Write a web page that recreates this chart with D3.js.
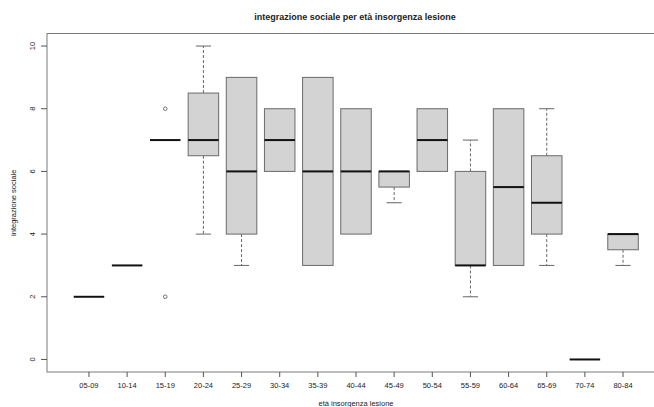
<!DOCTYPE html>
<html>
<head>
<meta charset="utf-8">
<script src="https://cdn.jsdelivr.net/npm/d3@7"></script>
<style>
  body { margin: 0; background: #fff; }
  text { font-family: "Liberation Sans", Arial, sans-serif; fill: #222; }
</style>
</head>
<body>
<svg id="chart" width="654" height="407"></svg>
<script>
const categories = ['05-09','10-14','15-19','20-24','25-29','30-34','35-39','40-44','45-49','50-54','55-59','60-64','65-69','70-74','80-84'];
const whiskerLow  = [2, 3, 7, 4,   3, 6, 3, 4, 5,   6, 2, 3, 3, 0, 3];
const q1          = [2, 3, 7, 6.5, 4, 6, 3, 4, 5.5, 6, 3, 3, 4, 0, 3.5];
const medians     = [2, 3, 7, 7,   6, 7, 6, 6, 6,   7, 3, 5.5, 5, 0, 4];
const q3          = [2, 3, 7, 8.5, 9, 8, 9, 8, 6,   8, 6, 8, 6.5, 0, 4];
const whiskerHigh = [2, 3, 7, 10,  9, 8, 9, 8, 6,   8, 7, 8, 8, 0, 4];
const outliers    = [[], [], [8, 2], [], [], [], [], [], [], [], [], [], [], [], []];
const yTicks = [0, 2, 4, 6, 8, 10];

const svg = d3.select('#chart');
const n = categories.length;

// R-style ranges: 4% padding around [0.5, n+0.5] and [0, 10]
const x = d3.scaleLinear().domain([-0.1, n + 1.1]).range([47, 665]);
const y = d3.scaleLinear().domain([-0.4, 10.4]).range([372, 33.5]);
const bw = (x(1) - x(0)) * 0.8;

const frame = '#7a7a7a';

// plot frame
svg.append('rect')
  .attr('x', x.range()[0]).attr('y', y.range()[1])
  .attr('width', x.range()[1] - x.range()[0])
  .attr('height', y.range()[0] - y.range()[1])
  .attr('fill', 'none').attr('stroke', frame).attr('stroke-width', 1);

// y axis ticks
const yAxis = svg.append('g');
yTicks.forEach(t => {
  yAxis.append('line')
    .attr('x1', 41).attr('x2', 47)
    .attr('y1', y(t)).attr('y2', y(t))
    .attr('stroke', '#555');
  yAxis.append('text')
    .attr('transform', `translate(35,${y(t)}) rotate(-90)`)
    .attr('text-anchor', 'middle')
    .style('font-size', '7.5px')
    .text(t);
});

// x axis ticks
const xAxis = svg.append('g');
categories.forEach((c, i) => {
  const cx = x(i + 1);
  xAxis.append('line')
    .attr('x1', cx).attr('x2', cx)
    .attr('y1', 372).attr('y2', 377)
    .attr('stroke', '#555');
  xAxis.append('text')
    .attr('x', cx).attr('y', 388)
    .attr('text-anchor', 'middle')
    .style('font-size', '7.5px')
    .text(c);
});

// boxes
const boxes = svg.append('g').selectAll('g')
  .data(categories.map((c, i) => ({
    i, lo: whiskerLow[i], q1: q1[i], med: medians[i], q3: q3[i], hi: whiskerHigh[i], out: outliers[i]
  })))
  .join('g');

boxes.each(function (d) {
  const g = d3.select(this);
  const cx = x(d.i + 1);
  const dash = '3,2';
  if (d.hi > d.q3) {
    g.append('line').attr('x1', cx).attr('x2', cx).attr('y1', y(d.q3)).attr('y2', y(d.hi))
      .attr('stroke', '#666').attr('stroke-dasharray', dash);
    g.append('line').attr('x1', cx - bw / 4).attr('x2', cx + bw / 4).attr('y1', y(d.hi)).attr('y2', y(d.hi))
      .attr('stroke', '#666');
  }
  if (d.lo < d.q1) {
    g.append('line').attr('x1', cx).attr('x2', cx).attr('y1', y(d.q1)).attr('y2', y(d.lo))
      .attr('stroke', '#666').attr('stroke-dasharray', dash);
    g.append('line').attr('x1', cx - bw / 4).attr('x2', cx + bw / 4).attr('y1', y(d.lo)).attr('y2', y(d.lo))
      .attr('stroke', '#666');
  }
  if (d.q3 > d.q1) {
    g.append('rect')
      .attr('x', cx - bw / 2).attr('y', y(d.q3))
      .attr('width', bw).attr('height', y(d.q1) - y(d.q3))
      .attr('fill', '#d3d3d3').attr('stroke', '#6a6a6a').attr('stroke-width', 1);
  }
  g.append('line')
    .attr('x1', cx - bw / 2).attr('x2', cx + bw / 2)
    .attr('y1', y(d.med)).attr('y2', y(d.med))
    .attr('stroke', '#111').attr('stroke-width', 2);
  d.out.forEach(v => {
    g.append('circle').attr('cx', cx).attr('cy', y(v)).attr('r', 1.8)
      .attr('fill', 'none').attr('stroke', '#555').attr('stroke-width', 0.8);
  });
});

// titles
svg.append('text')
  .attr('x', 355).attr('y', 20)
  .attr('text-anchor', 'middle')
  .style('font-size', '9px').style('font-weight', 'bold')
  .text('integrazione sociale per età insorgenza lesione');

svg.append('text')
  .attr('x', 356).attr('y', 406)
  .attr('text-anchor', 'middle')
  .style('font-size', '7.5px')
  .text('età insorgenza lesione');

svg.append('text')
  .attr('transform', `translate(16,${(y.range()[0] + y.range()[1]) / 2}) rotate(-90)`)
  .attr('text-anchor', 'middle')
  .style('font-size', '7.5px')
  .text('integrazione sociale');
</script>
</body>
</html>
